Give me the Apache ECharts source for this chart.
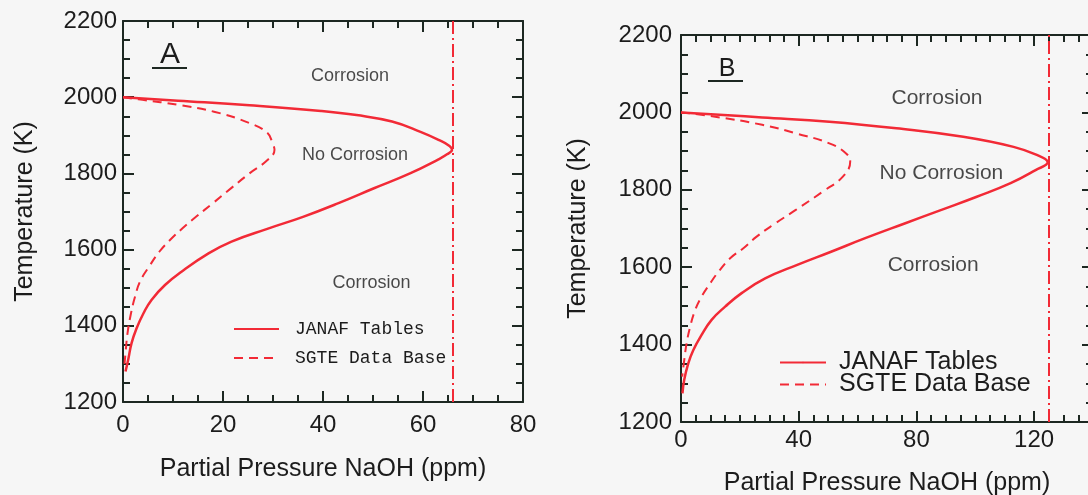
<!DOCTYPE html>
<html><head><meta charset="utf-8">
<script src="https://cdn.jsdelivr.net/npm/echarts@6/dist/echarts.min.js"></script>
<style>html,body{margin:0;padding:0;background:#f6f6f6;}#c{width:1088px;height:495px;}</style>
</head><body><div id="c"></div>
<script>
// ---------- data ----------
const seriesNames = ['JANAF Tables', 'SGTE Data Base'];
const xNameText = 'Partial Pressure NaOH (ppm)';
const yNameText = 'Temperature (K)';
const panelLabels = ['A', 'B'];

// Panel A: [ppm, K]
const janafA = [[0,2000],[11,1991],[25.3,1979],[39.6,1964],[46.7,1953],[53.8,1936],[59.5,1909],[63.1,1888],[65.3,1872],[65.8,1862],[64.8,1850],[63.1,1837],[57.4,1800],[50.2,1761],[43.1,1722],[36.0,1686],[29.0,1655],[21.7,1621],[17.1,1590],[11.7,1542],[8.4,1507],[5.7,1468],[4.1,1433],[2.7,1393],[1.7,1354],[1.1,1315],[0.5,1280]];
const sgteA = [[0,2000],[3.9,1993],[11,1980],[18.2,1962],[25.3,1932],[28.9,1906],[29.9,1879],[30.3,1862],[28.9,1835],[25.3,1800],[21.7,1762],[17.9,1721],[14.6,1686],[11.9,1656],[9.4,1625],[7.3,1595],[5.2,1555],[3.4,1516],[2.4,1476],[1.6,1433],[0.9,1380],[0.5,1328],[0.3,1300]];
const limitA = 66;
const notesA = [['Corrosion',45.4,2056],['No Corrosion',46.4,1848],['Corrosion',49.7,1512]];

// Panel B: [ppm, K]
const janafB = [[0,2000],[27.6,1987],[50.4,1976],[73.2,1959],[95.9,1937],[113,1911],[120.9,1890],[124.6,1871],[120.5,1851],[112,1817],[100.5,1782],[88.5,1748],[76,1713],[62.6,1675],[51,1640],[39.5,1606],[28.6,1571],[20.6,1533],[15,1498],[10.4,1464],[7.0,1425],[4.2,1386],[2.5,1352],[1.1,1309],[0.5,1274]];
const sgteB = [[0,2000],[10.6,1990],[27.6,1968],[39,1946],[50.4,1920],[56.1,1894],[57.5,1873],[55,1834],[48.1,1795],[39,1748],[32,1713],[25.7,1679],[21.2,1649],[16.7,1623],[12.7,1588],[9.9,1558],[7.0,1524],[4.8,1489],[3.1,1446],[1.9,1403],[1.1,1360],[0.4,1317]];
const limitB = 125;
const notesB = [['Corrosion',87,2036],['No Corrosion',88.5,1843],['Corrosion',85.7,1604]];

// axis ranges / tick steps
const xRangeA = [0, 80], xMajorA = 20, xMinorA = 5;
const xRangeB = [0, 140], xMajorB = 40, xMinorB = 5;
const yRange = [1200, 2200], yMajor = 200, yMinor = 50;

// ---------- style ----------
const RED = '#f22a36';
const AX = '#1d2822';
const TXT = '#1c1c1c';
const SANS = 'Liberation Sans';

function tick(len) { return {show: true, inside: true, length: len, lineStyle: {color: AX, width: 2}}; }
function xAxes(g, range, major, minor, labelMargin, nameGap) {
  const base = {gridIndex: g, type: 'value', min: range[0], max: range[1], splitLine: {show: false}};
  const line = {show: true, onZero: false, lineStyle: {color: AX, width: 2}};
  const noLine = {show: false, onZero: false};
  return [
    Object.assign({}, base, {position: 'bottom', interval: major, axisLine: line, axisTick: tick(11),
      axisLabel: {show: true, fontSize: 24, fontFamily: SANS, color: TXT, margin: labelMargin,
        formatter: v => (v % major === 0 ? String(v) : '')},
      name: xNameText, nameLocation: 'middle', nameGap: nameGap,
      nameTextStyle: {fontSize: 25, fontFamily: SANS, color: TXT}}),
    Object.assign({}, base, {position: 'bottom', interval: minor, axisLine: noLine, axisTick: tick(7), axisLabel: {show: false}}),
    Object.assign({}, base, {position: 'top', interval: major, axisLine: line, axisTick: tick(11), axisLabel: {show: false}}),
    Object.assign({}, base, {position: 'top', interval: minor, axisLine: noLine, axisTick: tick(7), axisLabel: {show: false}})
  ];
}
function yAxes(g, labelMargin, nameGap) {
  const base = {gridIndex: g, type: 'value', min: yRange[0], max: yRange[1], splitLine: {show: false}};
  const line = {show: true, onZero: false, lineStyle: {color: AX, width: 2}};
  const noLine = {show: false, onZero: false};
  return [
    Object.assign({}, base, {position: 'left', interval: yMajor, axisLine: line, axisTick: tick(11),
      axisLabel: {show: true, fontSize: 24, fontFamily: SANS, color: TXT, margin: labelMargin, formatter: v => String(v)},
      name: yNameText, nameLocation: 'middle', nameGap: nameGap,
      nameTextStyle: {fontSize: 25, fontFamily: SANS, color: TXT}}),
    Object.assign({}, base, {position: 'left', interval: yMinor, axisLine: noLine, axisTick: tick(7), axisLabel: {show: false}}),
    Object.assign({}, base, {position: 'right', interval: yMajor, axisLine: line, axisTick: tick(11), axisLabel: {show: false}}),
    Object.assign({}, base, {position: 'right', interval: yMinor, axisLine: noLine, axisTick: tick(7), axisLabel: {show: false}})
  ];
}
function curve(name, data, g, dashed, limit) {
  const s = {
    name: name, type: 'line', xAxisIndex: g * 4, yAxisIndex: g * 4, data: data,
    symbol: 'none', smooth: 0.45, silent: true, animation: false,
    lineStyle: {color: RED, width: dashed ? 2 : 2.5, type: dashed ? [9, 6] : 'solid'},
    itemStyle: {color: RED}
  };
  if (limit != null) {
    s.markLine = {silent: true, symbol: ['none', 'none'], label: {show: false}, animation: false,
      lineStyle: {color: RED, width: 2, type: [13, 4, 2, 4]}, data: [{xAxis: limit}]};
  }
  return s;
}
function notes(list, g, size) {
  return {
    name: 'notes' + g, type: 'scatter', xAxisIndex: g * 4, yAxisIndex: g * 4, silent: true, animation: false,
    symbolSize: 1, itemStyle: {color: 'transparent'},
    label: {show: true, position: 'inside', formatter: '{b}', fontSize: size, fontFamily: SANS, color: TXT},
    data: list.map(n => ({name: n[0], value: [n[1], n[2]]}))
  };
}

const option = {
  backgroundColor: '#f6f6f6',
  animation: false,
  grid: [
    {left: 123, top: 21, width: 400, height: 381, outerBoundsMode: 'none', containLabel: false},
    {left: 681, top: 35, width: 412, height: 387, outerBoundsMode: 'none', containLabel: false}
  ],
  xAxis: [].concat(xAxes(0, xRangeA, xMajorA, xMinorA, 11, 55), xAxes(1, xRangeB, xMajorB, xMinorB, 6, 49)),
  yAxis: [].concat(yAxes(0, 6, 85), yAxes(1, 9, 90)),
  legend: [
    {left: 233, top: 319, padding: 0, orient: 'vertical', itemWidth: 45, itemHeight: 2, itemGap: 9, selectedMode: false,
      data: seriesNames, textStyle: {fontFamily: 'Liberation Mono', fontSize: 18, color: TXT, lineHeight: 20, padding: [0, 0, 0, 11]}},
    {left: 779, top: 350, padding: 0, orient: 'vertical', itemWidth: 46, itemHeight: 2, itemGap: -3, selectedMode: false,
      data: seriesNames, textStyle: {fontFamily: SANS, fontSize: 25, color: TXT, lineHeight: 22, padding: [0, 0, 0, 8]}}
  ],
  graphic: [
    {type: 'text', x: 170, y: 55, silent: true, style: {text: panelLabels[0], font: '30px "Liberation Sans"', fill: TXT, align: 'center', verticalAlign: 'middle'}},
    {type: 'line', silent: true, shape: {x1: 152, y1: 68, x2: 187, y2: 68}, style: {stroke: AX, lineWidth: 2}},
    {type: 'text', x: 727, y: 69, silent: true, style: {text: panelLabels[1], font: '25px "Liberation Sans"', fill: TXT, align: 'center', verticalAlign: 'middle'}},
    {type: 'line', silent: true, shape: {x1: 708, y1: 81, x2: 743, y2: 81}, style: {stroke: AX, lineWidth: 2}}
  ],
  series: [
    curve(seriesNames[0], janafA, 0, false, limitA),
    curve(seriesNames[1], sgteA, 0, true, null),
    notes(notesA, 0, 18),
    curve(seriesNames[0], janafB, 1, false, limitB),
    curve(seriesNames[1], sgteB, 1, true, null),
    notes(notesB, 1, 21)
  ]
};
const chart = echarts.init(document.getElementById('c'), null, {renderer: 'canvas'});
chart.setOption(option);
</script></body></html>
